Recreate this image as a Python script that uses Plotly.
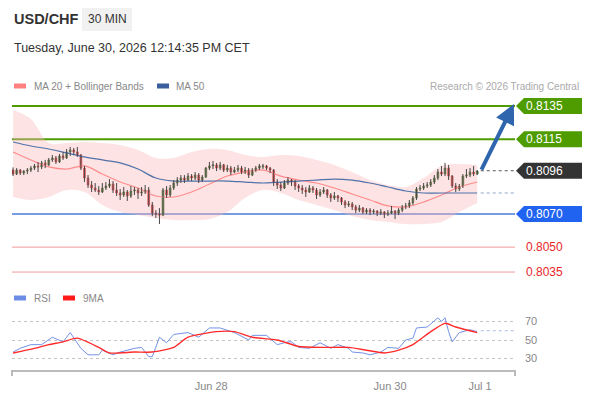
import plotly.graph_objects as go

# Candles (30 min)
candle_open = [
    0.80964, 0.80940, 0.80964, 0.80946, 0.80958, 0.80964, 0.80976, 0.80989, 0.80983, 0.81007,
    0.80995, 0.81025, 0.81037, 0.81013, 0.81049, 0.81037, 0.81073, 0.81085, 0.81073, 0.81055,
    0.80976, 0.80916, 0.80874, 0.80856, 0.80844, 0.80832, 0.80856, 0.80868, 0.80880, 0.80844,
    0.80826, 0.80814, 0.80832, 0.80808, 0.80838, 0.80844, 0.80826, 0.80832, 0.80844, 0.80754,
    0.80705, 0.80699, 0.80693, 0.80844, 0.80814, 0.80856, 0.80886, 0.80904, 0.80916, 0.80904,
    0.80928, 0.80916, 0.80934, 0.80904, 0.80922, 0.80976, 0.80989, 0.80995, 0.80976, 0.80995,
    0.80964, 0.80976, 0.80952, 0.80964, 0.80976, 0.80952, 0.80964, 0.80934, 0.80964, 0.80976,
    0.80983, 0.80989, 0.80976, 0.80964, 0.80892, 0.80874, 0.80856, 0.80886, 0.80904, 0.80892,
    0.80868, 0.80856, 0.80844, 0.80832, 0.80856, 0.80844, 0.80814, 0.80832, 0.80844, 0.80814,
    0.80796, 0.80808, 0.80796, 0.80772, 0.80754, 0.80760, 0.80742, 0.80723, 0.80735, 0.80711,
    0.80723, 0.80711, 0.80717, 0.80705, 0.80711, 0.80699, 0.80705, 0.80717, 0.80705, 0.80723,
    0.80742, 0.80748, 0.80766, 0.80796, 0.80850, 0.80856, 0.80868, 0.80874, 0.80892, 0.80916,
    0.80952, 0.80940, 0.80976, 0.80928, 0.80868, 0.80850, 0.80868, 0.80928, 0.80934, 0.80952,
    0.80940,
]
candle_high = [
    0.80980, 0.80976, 0.80970, 0.80964, 0.80976, 0.80989, 0.81001, 0.81013, 0.81019, 0.81025,
    0.81037, 0.81055, 0.81049, 0.81061, 0.81073, 0.81091, 0.81103, 0.81097, 0.81103, 0.81061,
    0.80989, 0.80934, 0.80898, 0.80886, 0.80868, 0.80886, 0.80892, 0.80910, 0.80898, 0.80886,
    0.80850, 0.80862, 0.80844, 0.80868, 0.80862, 0.80856, 0.80862, 0.80874, 0.80862, 0.80772,
    0.80723, 0.80735, 0.80856, 0.80868, 0.80874, 0.80904, 0.80922, 0.80934, 0.80934, 0.80946,
    0.80940, 0.80952, 0.80946, 0.80934, 0.80983, 0.81013, 0.81019, 0.81007, 0.81013, 0.81001,
    0.80995, 0.80989, 0.80983, 0.80995, 0.80989, 0.80983, 0.80976, 0.80976, 0.80989, 0.81001,
    0.81001, 0.80995, 0.80983, 0.80970, 0.80910, 0.80892, 0.80904, 0.80922, 0.80910, 0.80904,
    0.80880, 0.80874, 0.80862, 0.80874, 0.80868, 0.80856, 0.80850, 0.80862, 0.80850, 0.80826,
    0.80832, 0.80814, 0.80802, 0.80784, 0.80778, 0.80772, 0.80754, 0.80754, 0.80742, 0.80735,
    0.80735, 0.80729, 0.80723, 0.80729, 0.80717, 0.80723, 0.80748, 0.80723, 0.80735, 0.80754,
    0.80766, 0.80784, 0.80808, 0.80862, 0.80874, 0.80886, 0.80892, 0.80910, 0.80934, 0.80970,
    0.80989, 0.81007, 0.80995, 0.80934, 0.80886, 0.80880, 0.80940, 0.80970, 0.80976, 0.80989,
    0.80964,
]
candle_low = [
    0.80928, 0.80934, 0.80934, 0.80934, 0.80940, 0.80952, 0.80964, 0.80952, 0.80970, 0.80976,
    0.80989, 0.81013, 0.81001, 0.81007, 0.81025, 0.81031, 0.81049, 0.81055, 0.81043, 0.80964,
    0.80892, 0.80856, 0.80832, 0.80832, 0.80814, 0.80826, 0.80844, 0.80856, 0.80826, 0.80808,
    0.80784, 0.80802, 0.80778, 0.80796, 0.80814, 0.80790, 0.80808, 0.80820, 0.80742, 0.80687,
    0.80675, 0.80639, 0.80687, 0.80796, 0.80802, 0.80844, 0.80868, 0.80886, 0.80886, 0.80898,
    0.80898, 0.80904, 0.80886, 0.80892, 0.80916, 0.80964, 0.80970, 0.80958, 0.80964, 0.80952,
    0.80952, 0.80934, 0.80946, 0.80952, 0.80940, 0.80940, 0.80916, 0.80928, 0.80952, 0.80964,
    0.80970, 0.80964, 0.80946, 0.80868, 0.80850, 0.80838, 0.80850, 0.80874, 0.80868, 0.80844,
    0.80832, 0.80820, 0.80802, 0.80826, 0.80826, 0.80790, 0.80802, 0.80820, 0.80796, 0.80772,
    0.80784, 0.80772, 0.80754, 0.80735, 0.80742, 0.80723, 0.80705, 0.80711, 0.80699, 0.80699,
    0.80693, 0.80699, 0.80687, 0.80693, 0.80675, 0.80687, 0.80699, 0.80669, 0.80693, 0.80711,
    0.80729, 0.80735, 0.80754, 0.80784, 0.80838, 0.80844, 0.80856, 0.80862, 0.80880, 0.80904,
    0.80928, 0.80928, 0.80904, 0.80856, 0.80832, 0.80838, 0.80856, 0.80916, 0.80922, 0.80928,
    0.80934,
]
candle_close = [
    0.80940, 0.80964, 0.80946, 0.80958, 0.80964, 0.80976, 0.80989, 0.80983, 0.81007, 0.80995,
    0.81025, 0.81037, 0.81013, 0.81049, 0.81037, 0.81073, 0.81085, 0.81073, 0.81055, 0.80976,
    0.80916, 0.80874, 0.80856, 0.80844, 0.80832, 0.80856, 0.80868, 0.80880, 0.80844, 0.80826,
    0.80814, 0.80832, 0.80808, 0.80838, 0.80844, 0.80826, 0.80832, 0.80844, 0.80754, 0.80705,
    0.80699, 0.80693, 0.80844, 0.80814, 0.80856, 0.80886, 0.80904, 0.80916, 0.80904, 0.80928,
    0.80916, 0.80934, 0.80904, 0.80922, 0.80976, 0.80989, 0.80995, 0.80976, 0.80995, 0.80964,
    0.80976, 0.80952, 0.80964, 0.80976, 0.80952, 0.80964, 0.80934, 0.80964, 0.80976, 0.80989,
    0.80989, 0.80976, 0.80964, 0.80892, 0.80874, 0.80856, 0.80886, 0.80904, 0.80892, 0.80868,
    0.80856, 0.80844, 0.80832, 0.80856, 0.80844, 0.80814, 0.80832, 0.80844, 0.80814, 0.80796,
    0.80808, 0.80796, 0.80772, 0.80754, 0.80760, 0.80742, 0.80723, 0.80735, 0.80711, 0.80723,
    0.80711, 0.80717, 0.80705, 0.80711, 0.80699, 0.80705, 0.80717, 0.80705, 0.80723, 0.80742,
    0.80748, 0.80766, 0.80796, 0.80850, 0.80856, 0.80868, 0.80874, 0.80892, 0.80916, 0.80952,
    0.80940, 0.80976, 0.80928, 0.80868, 0.80850, 0.80868, 0.80928, 0.80934, 0.80952, 0.80940,
    0.80958,
]

# MA 20 + Bollinger bands and MA 50, sampled every 5 candles
band_idx = [0, 5, 10, 15, 20, 25, 30, 35, 40, 45, 50, 55, 60, 65, 70, 75, 80, 85, 90, 95,
            100, 105, 110, 115, 120, 125, 130]
ma20 = [0.81073, 0.81025, 0.80983, 0.80970, 0.80989, 0.80940, 0.80892, 0.80856, 0.80808,
        0.80802, 0.80832, 0.80880, 0.80928, 0.80952, 0.80964, 0.80928, 0.80904, 0.80886,
        0.80856, 0.80820, 0.80784, 0.80748, 0.80742, 0.80772, 0.80814, 0.80862, 0.80892]
bb_upper = [0.81326, 0.81272, 0.81127, 0.81127, 0.81133, 0.81127, 0.81115, 0.81085, 0.81037,
            0.81037, 0.81073, 0.81091, 0.81085, 0.81055, 0.81043, 0.81055, 0.81049, 0.81025,
            0.80995, 0.80952, 0.80904, 0.80874, 0.80862, 0.80916, 0.80989, 0.81001, 0.80995]
bb_lower = [0.80802, 0.80784, 0.80802, 0.80844, 0.80832, 0.80754, 0.80711, 0.80693, 0.80675,
            0.80663, 0.80663, 0.80669, 0.80711, 0.80796, 0.80844, 0.80826, 0.80784, 0.80754,
            0.80723, 0.80687, 0.80663, 0.80651, 0.80639, 0.80639, 0.80651, 0.80711, 0.80766]
ma50 = [0.81133, 0.81109, 0.81091, 0.81067, 0.81043, 0.81025, 0.81007, 0.80970, 0.80916,
        0.80898, 0.80898, 0.80898, 0.80898, 0.80892, 0.80886, 0.80892, 0.80898, 0.80904,
        0.80910, 0.80904, 0.80886, 0.80862, 0.80838, 0.80826, 0.80826, 0.80826, 0.80826]

# RSI and its 9 period MA
rsi_idx = [0, 2, 5, 8, 11, 14, 16, 19, 21, 24, 25, 28, 30, 34, 36, 38, 39, 41, 43, 45,
           49, 52, 55, 58, 62, 66, 67, 71, 74, 77, 78, 80, 83, 86, 89, 91, 94, 95, 98, 100,
           103, 105, 108, 110, 112, 113, 116, 119, 120, 121, 122, 123, 125, 128, 130]
rsi = [37, 41, 45, 45, 53, 48, 58, 41, 34, 34, 39, 34, 37, 41, 42, 32, 32, 53, 47, 56,
       58, 53, 63, 63, 58, 50, 55, 55, 45, 48, 48, 42, 41, 47, 41, 45, 41, 37, 36, 34,
       37, 42, 41, 50, 52, 63, 64, 74, 70, 74, 59, 48, 58, 61, 59]
rsi_ma_idx = [0, 6, 10, 14, 18, 24, 27, 34, 39, 45, 49, 57, 62, 67, 74, 80, 87, 94, 99,
              104, 108, 112, 117, 121, 124, 130]
rsi_ma = [36, 41, 45, 48, 52, 42, 36, 37, 37, 42, 53, 59, 59, 53, 50, 43, 42, 42, 39,
          36, 39, 45, 59, 68, 64, 58]

# key levels
resistances = [0.8135, 0.8115]
last_price = 0.8096
pivot = 0.8070
supports = [0.8050, 0.8035]
rsi_ticks = [30, 50, 70]

tick_pos = [55.5, 105.6, 130.8]
tick_labels = ["Jun 28", "Jun 30", "Jul 1"]

# ---- layout helpers: reference pixel -> paper ----
# the page body adds an 8 px margin, so the figure is drawn 8 px in from the corner
OFF = 8
W, H = 590 - OFF, 400 - OFF
L, R = 12, 515
X_MAX = 140.6


def px(x):
    return (x - L) / (R - L)


def py(y):
    return 1 - (y - OFF) / H


n = len(candle_close)
xs = list(range(n))

fig = go.Figure()

# Bollinger band fill
fig.add_trace(go.Scatter(x=band_idx, y=bb_lower, mode='lines',
                         line=dict(width=0, shape='spline'), hoverinfo='skip', showlegend=False))
fig.add_trace(go.Scatter(x=band_idx, y=bb_upper, mode='lines', fill='tonexty',
                         fillcolor='rgba(250, 185, 185, 0.40)',
                         line=dict(width=0, shape='spline'), hoverinfo='skip', showlegend=False))
fig.add_trace(go.Scatter(x=band_idx, y=ma20, mode='lines',
                         line=dict(color='#ff8c8c', width=1.2, shape='spline'), showlegend=False))
fig.add_trace(go.Scatter(x=band_idx, y=ma50, mode='lines',
                         line=dict(color='#4f72aa', width=1.2, shape='spline'), showlegend=False))

# grey wicks, then coloured bodies on top
wick_x, wick_y = [], []
for i in xs:
    wick_x += [i, i, None]
    wick_y += [candle_low[i], candle_high[i], None]
fig.add_trace(go.Scatter(x=wick_x, y=wick_y, mode='lines', line=dict(color='#474747', width=1),
                         hoverinfo='skip', showlegend=False))
body_top = [max(o, c) for o, c in zip(candle_open, candle_close)]
body_bot = [min(o, c) for o, c in zip(candle_open, candle_close)]
fig.add_trace(go.Candlestick(
    x=xs, open=candle_open, high=body_top, low=body_bot, close=candle_close,
    increasing=dict(fillcolor='#2f8f22', line=dict(color='#245c18', width=0.8)),
    decreasing=dict(fillcolor='#ee1c24', line=dict(color='#c3141b', width=0.8)),
    whiskerwidth=0, showlegend=False, hoverinfo='skip'))

# RSI panel
fig.add_trace(go.Scatter(x=rsi_idx, y=rsi, mode='lines', xaxis='x2', yaxis='y2',
                         line=dict(color='#7393e6', width=1), showlegend=False))
fig.add_trace(go.Scatter(x=rsi_ma_idx, y=rsi_ma, mode='lines', xaxis='x2', yaxis='y2',
                         line=dict(color='#ff2b2b', width=1.4, shape='spline', smoothing=0.6),
                         showlegend=False))

shapes = []
annotations = []
font = "Arial, 'Liberation Sans', sans-serif"

# level lines
for v in resistances:
    shapes.append(dict(type='line', xref='paper', yref='y', x0=0, x1=1, y0=v, y1=v,
                       line=dict(color='#4e9c00', width=2), layer='below'))
shapes.append(dict(type='line', xref='paper', yref='y', x0=0, x1=1, y0=pivot, y1=pivot,
                   line=dict(color='#4a7bd6', width=1.5), layer='below'))
for v in supports:
    shapes.append(dict(type='line', xref='paper', yref='y', x0=0, x1=1, y0=v, y1=v,
                       line=dict(color='#f39a9a', width=1), layer='below'))
    annotations.append(dict(xref='paper', yref='y', x=px(524), y=v, text=f"{v:.4f}",
                            showarrow=False, xanchor='left', yanchor='middle',
                            font=dict(color='#e8262b', size=12)))

# dotted extensions of price and MA50
shapes.append(dict(type='line', xref='x', yref='y', x0=n, x1=X_MAX, y0=last_price, y1=last_price,
                   line=dict(color='#555', width=1, dash='dot')))
shapes.append(dict(type='line', xref='x', yref='y', x0=n, x1=X_MAX, y0=ma50[-1], y1=ma50[-1],
                   line=dict(color='#8fa6cc', width=1, dash='dot')))

# price tags
h = 8 * 0.0000602
for v, col in [(resistances[0], '#4e9c00'), (resistances[1], '#4e9c00'),
               (last_price, '#333333'), (pivot, '#1f63f0')]:
    x_tip, x_body, x_end = px(516), px(524), px(586)
    shapes.append(dict(type='path', xref='paper', yref='y', fillcolor=col, line=dict(width=0),
                       path=f"M {x_tip},{v} L {x_body},{v + h} L {x_end},{v + h} "
                            f"L {x_end},{v - h} L {x_body},{v - h} Z"))
    annotations.append(dict(xref='paper', yref='y', x=px(524), y=v, text=f"{v:.4f}",
                            showarrow=False, xanchor='left', yanchor='middle',
                            font=dict(color='white', size=12)))

# target arrow
annotations.append(dict(xref='x', yref='y', x=X_MAX - 0.3, y=resistances[0] + 0.00012,
                        axref='x', ayref='y', ax=n, ay=candle_close[-1], text='',
                        showarrow=True, arrowhead=2, arrowsize=1, arrowwidth=4,
                        arrowcolor='#2f65ad'))

# RSI dotted extension
shapes.append(dict(type='line', xref='x2', yref='y2', x0=n, x1=X_MAX, y0=rsi[-1] + 1, y1=rsi[-1] + 1,
                   line=dict(color='#a9bbe8', width=1, dash='dot')))

# x-axis end ticks
for xx in (0, 1):
    shapes.append(dict(type='line', xref='paper', yref='paper', x0=xx, x1=xx,
                       y0=py(370), y1=py(376), line=dict(color='#bbbbbb', width=2)))

# header
shapes.append(dict(type='rect', xref='paper', yref='paper', x0=px(82), x1=px(132),
                   y0=py(31), y1=py(8), fillcolor='#f1f1f1', line=dict(width=0)))
annotations += [
    dict(xref='paper', yref='paper', x=px(12), y=py(19), text='<b>USD/CHF</b>', showarrow=False,
         xanchor='left', yanchor='middle', font=dict(size=14.5, color='#333')),
    dict(xref='paper', yref='paper', x=px(107), y=py(19), text='30 MIN', showarrow=False,
         xanchor='center', yanchor='middle', font=dict(size=12, color='#333')),
    dict(xref='paper', yref='paper', x=px(12), y=py(48),
         text='Tuesday, June 30, 2026 12:14:35 PM CET', showarrow=False,
         xanchor='left', yanchor='middle', font=dict(size=12.5, color='#333')),
    dict(xref='paper', yref='paper', x=px(32), y=py(86), text='MA 20 + Bollinger Bands',
         showarrow=False, xanchor='left', yanchor='middle', font=dict(size=10, color='#888')),
    dict(xref='paper', yref='paper', x=px(174), y=py(86), text='MA 50',
         showarrow=False, xanchor='left', yanchor='middle', font=dict(size=10, color='#888')),
    dict(xref='paper', yref='paper', x=px(581), y=py(86), text='Research © 2026 Trading Central',
         showarrow=False, xanchor='right', yanchor='middle', font=dict(size=10, color='#aaa')),
    dict(xref='paper', yref='paper', x=px(32), y=py(298), text='RSI',
         showarrow=False, xanchor='left', yanchor='middle', font=dict(size=10, color='#888')),
    dict(xref='paper', yref='paper', x=px(81), y=py(298), text='9MA',
         showarrow=False, xanchor='left', yanchor='middle', font=dict(size=10, color='#888')),
]
for x0, x1, yc, col in [(14, 26, 86, '#ff8080'), (157, 169, 86, '#3a5f9c'),
                        (14, 26, 298, '#6b8de6'), (63, 75, 298, '#ff1a1a')]:
    shapes.append(dict(type='rect', xref='paper', yref='paper', x0=px(x0), x1=px(x1),
                       y0=py(yc + 2.5), y1=py(yc - 2.5), fillcolor=col, line=dict(width=0)))

fig.update_layout(
    width=W, height=H,
    margin=dict(l=L - OFF, r=W - (R - OFF), t=0, b=0),
    paper_bgcolor='white', plot_bgcolor='white',
    font=dict(family=font, color='#333'),
    showlegend=False,
    xaxis=dict(range=[-0.3, X_MAX], visible=False, rangeslider=dict(visible=False),
               anchor='y'),
    yaxis=dict(domain=[py(285), py(95)], range=[0.80272, 0.81416], visible=False),
    xaxis2=dict(range=[-0.3, X_MAX], anchor='y2', showline=True, linecolor='#bbbbbb',
                linewidth=2, showgrid=False, zeroline=False, tickvals=tick_pos,
                ticktext=tick_labels, ticks='', tickfont=dict(size=11, color='#888'),
                ticklabelstandoff=5),
    yaxis2=dict(domain=[py(370), py(305)], range=[17.6, 87.8], side='right',
                tickvals=rsi_ticks, showgrid=True, gridcolor='#c4c4c4', griddash='dot',
                zeroline=False, ticks='', tickfont=dict(size=11, color='#888'),
                ticklabelstandoff=9),
    shapes=shapes,
    annotations=annotations,
)

fig.write_html("out.html")
